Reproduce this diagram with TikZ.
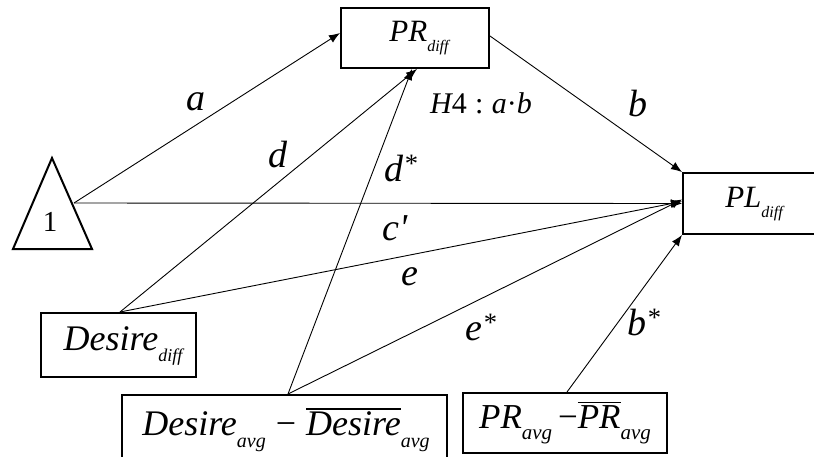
\documentclass[tikz,border=0pt]{standalone}
\usepackage{fontspec}
\setmainfont{Liberation Serif}[ItalicFont={Liberation Serif Italic}]
\usetikzlibrary{arrows.meta}
\newcommand{\lsub}[2]{\raisebox{-0.32em}{\fontsize{#1}{#1}\selectfont\itshape #2}}
\newcommand{\ovl}[1]{\vbox{\hrule height 1.4pt\kern 2.5pt\hbox{#1}}}
\begin{document}
\begin{tikzpicture}[x=1pt,y=-1pt,
  box/.style={draw, line width=2pt, inner sep=0pt, minimum width=#1},
  lab/.style={font=\fontsize{38}{40}\selectfont\itshape, inner sep=0pt},
  conn/.style={line width=0.9pt, -{Latex[length=11pt,width=8.5pt]}}]
\useasboundingbox (0,0) rectangle (814,456);
\clip (0,0) rectangle (814,456);
% triangle
\draw[line width=2pt, line join=miter] (52,158) -- (92,249) -- (13,249) -- cycle;
\node[font=\fontsize{29}{31}\selectfont, inner sep=0pt] (one) at (50,222) {1};
\coordinate (tri) at (74,203);
% boxes
\node[box=148pt, minimum height=60pt] (prd) at (415,38) {};
\node[inner sep=0pt] (prdt) at (419,38)
  {\fontsize{31}{33}\selectfont\itshape PR\lsub{16}{diff}};
\node[box=139pt, minimum height=61pt] (pld) at (752.5,203.5) {};
\node[inner sep=0pt] (pldt) at (754,204)
  {\fontsize{31}{33}\selectfont\itshape PL\lsub{16}{diff}};
\node[box=155pt, minimum height=64pt] (dd) at (118.5,345) {};
\node[inner sep=0pt] (ddt) at (123,346)
  {\fontsize{36}{38}\selectfont\itshape Desire\lsub{18}{diff}};
\node[box=325pt, minimum height=70pt] (da) at (284.5,430) {};
\node[inner sep=0pt] (dat) at (286,430)
  {\fontsize{36}{38}\selectfont\itshape Desire\lsub{20}{avg}\;\upshape−\;\ovl{\itshape Desire}\lsub{20}{avg}};
\node[box=204pt, minimum height=60pt] (pra) at (565,423)
  {\fontsize{35}{38}\selectfont\itshape PR\lsub{21}{avg}\,\upshape−\ovl{\itshape PR}\lsub{21}{avg}};
% connectors
\draw[conn] (tri) -- ([yshift=5pt]prd.west);
\draw[conn] ([yshift=2pt]prd.east) -- (pld.north west);
\draw[conn] (tri) -- (pld.west);
\draw[conn] ([xshift=1.5pt]dd.north) -- ([xshift=2pt]prd.south);
\draw[conn] ([xshift=3.5pt]da.north) -- ([xshift=-3pt]prd.south);
\draw[conn] ([xshift=1.5pt]dd.north) -- ([yshift=2pt]pld.west);
\draw[conn] ([xshift=3.5pt]da.north) -- ([yshift=4pt]pld.west);
\draw[conn] ([xshift=2pt]pra.north) -- (pld.south west);
% labels
\node[lab] (la) at (196,102) {a};
\node[lab] (lb) at (638,103) {b};
\node[lab] (ld) at (278,155) {d};
\node[lab] (lds) at (401,168) {d\textsuperscript{*}};
\node[lab] (lc) at (395,228) {c\textquotesingle};
\node[lab] (le) at (410,277) {e};
\node[lab] (les) at (481,327) {e\textsuperscript{*}};
\node[lab] (lbs) at (644,322) {b\textsuperscript{*}};
\node[font=\fontsize{30}{32}\selectfont, inner sep=0pt] (h4) at (481,103)
  {\itshape H\upshape 4\;:\;\itshape a\upshape·\itshape b};
\end{tikzpicture}
\end{document}
